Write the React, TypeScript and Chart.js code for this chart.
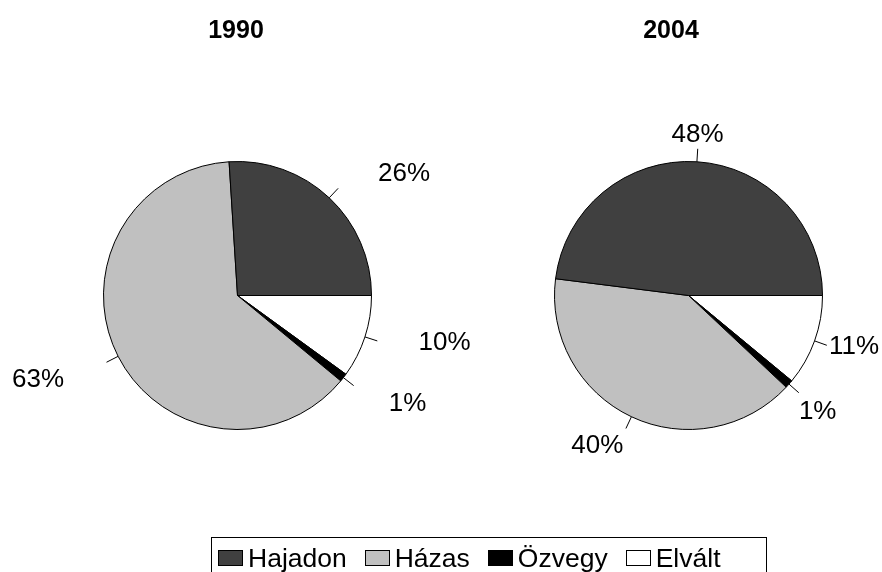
import React, { useEffect, useRef } from "react";
import { Chart, registerables } from "chart.js";

Chart.register(...registerables);

// ---- data ----
const categories = ["Hajadon", "Házas", "Özvegy", "Elvált"];
const years = ["1990", "2004"];
const values1990 = [26, 63, 1, 10];
const values2004 = [48, 40, 1, 11];
const seriesValues = [values1990, values2004];

// ---- style ----
const sliceColors = ["#404040", "#c0c0c0", "#000000", "#ffffff"];
const FONT = '"Liberation Sans", Arial, Helvetica, sans-serif';

const pieLayouts = [
  {
    padding: { left: 103, top: 161, right: 510, bottom: 142 },
    titleX: 236,
    labelRadius: [207, 216, 201, 212],
    labelShiftDeg: [-10.4, -4.4, 5.6, 5.5],
  },
  {
    padding: { left: 554, top: 161, right: 59, bottom: 142 },
    titleX: 671,
    labelRadius: [162, 175, 173, 173],
    labelShiftDeg: [0.4, -6.2, -0.3, 3.0],
  },
];

const labelPlugin = {
  id: "pieLabels",
  afterDraw(chart: any, _args: any, opts: any) {
    const ctx = chart.ctx;
    const meta = chart.getDatasetMeta(0);
    const n = categories.length;
    ctx.save();
    // title
    ctx.fillStyle = "#000";
    ctx.font = `bold 25px ${FONT}`;
    ctx.textAlign = "center";
    ctx.textBaseline = "alphabetic";
    ctx.fillText(opts.title, opts.titleX, 38);

    ctx.font = `26px ${FONT}`;
    ctx.textBaseline = "middle";
    meta.data.forEach((arc: any, i: number) => {
      const orig = n - 1 - i; // data reversed for drawing
      const p = arc.getProps(["x", "y", "startAngle", "endAngle", "outerRadius"], true);
      const mid = (p.startAngle + p.endAngle) / 2;
      const r = p.outerRadius;
      // leader tick
      ctx.strokeStyle = "#000";
      ctx.lineWidth = 1;
      ctx.beginPath();
      ctx.moveTo(p.x + r * Math.cos(mid), p.y + r * Math.sin(mid));
      ctx.lineTo(p.x + (r + 13) * Math.cos(mid), p.y + (r + 13) * Math.sin(mid));
      ctx.stroke();
      // label
      const a = mid - (opts.labelShiftDeg[orig] * Math.PI) / 180;
      const R = opts.labelRadius[orig];
      ctx.fillStyle = "#000";
      ctx.textAlign = "center";
      ctx.fillText(`${opts.values[orig]}%`, p.x + R * Math.cos(a), p.y + R * Math.sin(a) + 1);
    });
    ctx.restore();
  },
};

function PieCanvas({ index }: { index: number }) {
  const ref = useRef<HTMLCanvasElement | null>(null);
  useEffect(() => {
    if (!ref.current) return;
    const layout = pieLayouts[index];
    const vals = seriesValues[index];
    const chart = new Chart(ref.current, {
      type: "pie",
      data: {
        labels: [...categories].reverse(),
        datasets: [
          {
            data: [...vals].reverse(),
            backgroundColor: [...sliceColors].reverse(),
            borderColor: "#000000",
            borderWidth: 1,
            hoverBorderWidth: 1,
            hoverOffset: 0,
          },
        ],
      },
      options: {
        responsive: false,
        animation: false,
        events: [],
        rotation: 90,
        layout: { padding: layout.padding },
        plugins: {
          legend: { display: false },
          tooltip: { enabled: false },
          title: { display: false },
          pieLabels: {
            title: years[index],
            titleX: layout.titleX,
            labelRadius: layout.labelRadius,
            labelShiftDeg: layout.labelShiftDeg,
            values: vals,
          },
        } as any,
      },
      plugins: [labelPlugin],
    });
    return () => chart.destroy();
  }, [index]);
  return (
    <canvas
      ref={ref}
      width={882}
      height={572}
      style={{ position: "absolute", left: 0, top: 0, width: 882, height: 572, display: "block" }}
    />
  );
}

export default function App() {
  const gap = 18;
  return (
    <div
      style={{
        position: "absolute",
        left: 0,
        top: 0,
        width: 882,
        height: 572,
        overflow: "hidden",
        background: "#ffffff",
        fontFamily: FONT,
      }}
    >
      <PieCanvas index={0} />
      <PieCanvas index={1} />
      <div
        style={{
          position: "absolute",
          left: 211,
          top: 537,
          width: 556,
          height: 60,
          border: "1px solid #000",
          boxSizing: "border-box",
          display: "flex",
          alignItems: "flex-start",
          paddingLeft: 6,
          paddingTop: 5,
        }}
      >
        {categories.map((c, i) => (
          <div
            key={c}
            style={{
              display: "flex",
              alignItems: "flex-start",
              marginRight: i < categories.length - 1 ? gap : 0,
            }}
          >
            <div
              style={{
                width: 25,
                height: 16,
                marginTop: 7,
                marginRight: 5,
                background: sliceColors[i],
                border: "1px solid #000",
                boxSizing: "border-box",
              }}
            />
            <span style={{ fontSize: 26.5, lineHeight: "30px", color: "#000", whiteSpace: "nowrap" }}>{c}</span>
          </div>
        ))}
      </div>
    </div>
  );
}
